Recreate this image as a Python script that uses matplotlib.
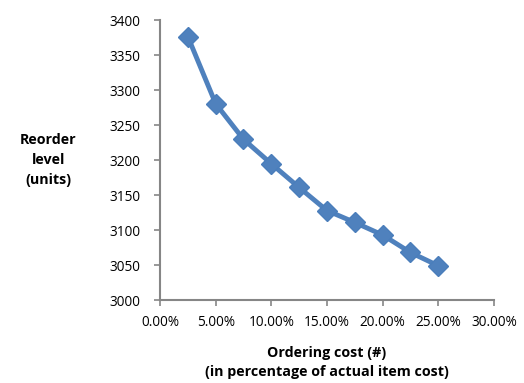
import matplotlib
matplotlib.use("Agg")
import matplotlib.pyplot as plt
from matplotlib.ticker import PercentFormatter

ordering_cost = [0.025, 0.05, 0.075, 0.10, 0.125, 0.15, 0.175, 0.20, 0.225, 0.25]
reorder_level = [3377, 3281, 3230, 3195, 3161, 3128, 3111, 3093, 3068, 3049]
x_ticks = [0.0, 0.05, 0.10, 0.15, 0.20, 0.25, 0.30]
y_ticks = [3000, 3050, 3100, 3150, 3200, 3250, 3300, 3350, 3400]

plt.rcParams['font.family'] = ['Open Sans', 'DejaVu Sans']

fig = plt.figure(figsize=(5.24, 3.83), dpi=100)
ax = fig.add_axes([0.3053, 0.2167, 0.9427 - 0.3053, 0.9465 - 0.2167])

ax.plot(ordering_cost, reorder_level, color='#4F81BD', linewidth=3.5,
        marker='D', markersize=10, markerfacecolor='#4F81BD',
        markeredgecolor='#4A7EBB', markeredgewidth=1.0)

ax.set_xlim(0, 0.30)
ax.set_ylim(3000, 3400)
ax.set_xticks(x_ticks)
ax.set_yticks(y_ticks)
ax.xaxis.set_major_formatter(PercentFormatter(xmax=1.0, decimals=2))

for side in ('top', 'right'):
    ax.spines[side].set_visible(False)
for side in ('left', 'bottom'):
    ax.spines[side].set_color('#868686')
    ax.spines[side].set_linewidth(1.5)
ax.tick_params(axis='both', direction='out', length=4, width=1.2,
               color='#868686', labelsize=9.8, labelcolor='#000000')
ax.tick_params(axis='x', pad=7)
ax.tick_params(axis='y', pad=10)

fig.text(0.092, 0.582, 'Reorder\nlevel\n(units)', ha='center', va='center',
         fontsize=10.3, fontweight='bold', linespacing=1.55)
fig.text(0.624, 0.054, 'Ordering cost (#)\n(in percentage of actual item cost)',
         ha='center', va='center', fontsize=10.3, fontweight='bold',
         linespacing=1.5)

fig.savefig('out.png', dpi=100)
